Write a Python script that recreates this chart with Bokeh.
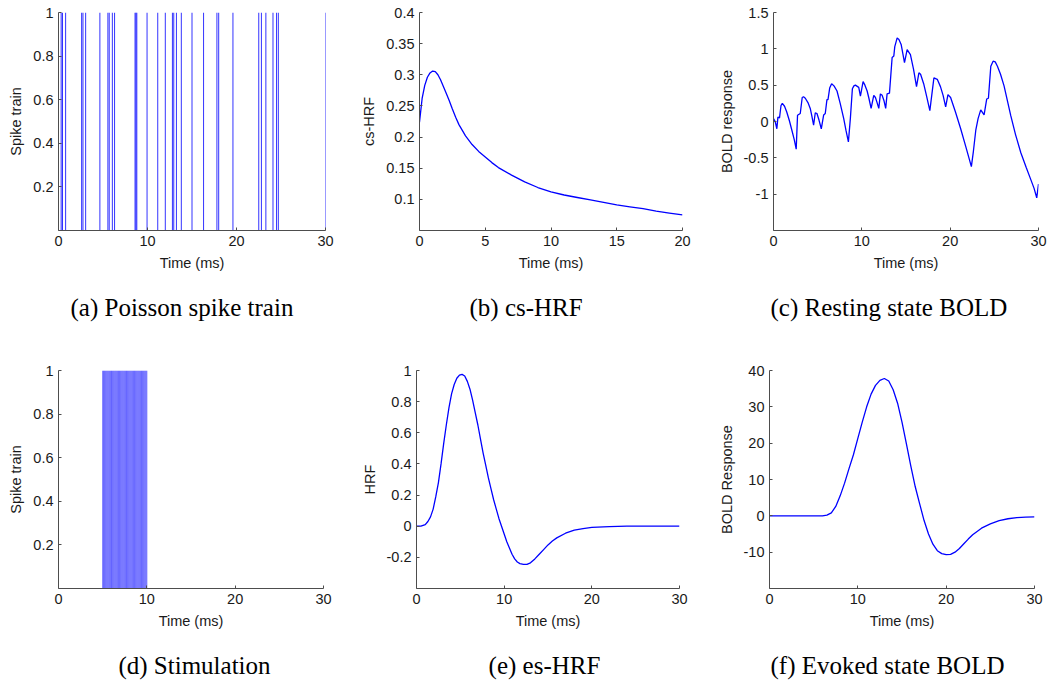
from bokeh.plotting import figure
from bokeh.layouts import column, row
from bokeh.models import Range1d, FixedTicker, CustomJSTickFormatter, Title, Label
from bokeh.embed import file_html
from bokeh.resources import INLINE

# ---------------- data ----------------
spike_times_a = [0.3, 0.45, 0.8, 2.6, 2.75, 3.05, 4.65, 5.55, 5.7, 6.05, 6.3,
                 8.6, 8.7, 8.8, 9.95, 11.15, 12.0, 12.8, 12.95, 13.25, 13.8,
                 15.0, 16.3, 17.8, 18.0, 19.6, 22.5, 22.8, 23.3, 24.1, 24.5,
                 24.7, 30.0]

cs_hrf_t = [0, 0.2, 0.4, 0.6, 0.8, 1.0, 1.2, 1.4, 1.6, 1.8, 2.0, 2.25, 2.5,
            2.75, 3.0, 3.5, 4.0, 4.5, 5.0, 5.5, 6, 7, 8, 9, 10, 11, 12, 13,
            14, 15, 16, 17, 18, 19, 20]
cs_hrf_v = [0.224, 0.262, 0.283, 0.296, 0.303, 0.306, 0.305, 0.300, 0.292,
            0.282, 0.272, 0.259, 0.245, 0.232, 0.220, 0.202, 0.188, 0.177,
            0.168, 0.159, 0.151, 0.139, 0.128, 0.119, 0.112, 0.107, 0.103,
            0.099, 0.095, 0.091, 0.088, 0.085, 0.081, 0.078, 0.075]

rest_t = [0, 0.19, 0.38, 0.5, 0.68, 0.85, 1.0, 1.25, 1.5, 1.8, 2.08, 2.35,
          2.57, 2.72, 3.03, 3.25, 3.4, 3.6, 3.9, 4.16, 4.35, 4.54, 4.73, 4.92,
          5.15, 5.41, 5.68, 5.86, 6.05, 6.17, 6.36, 6.58, 6.85, 7.19, 7.55,
          7.95, 8.2, 8.48, 8.7, 8.93, 9.1, 9.27, 9.65, 9.84, 10.14, 10.35,
          10.6, 10.8, 11.05, 11.35, 11.54, 11.7, 11.92, 12.1, 12.3, 12.5,
          12.7, 12.86, 13.13, 13.43, 13.62, 13.73, 14.0, 14.2, 14.45, 14.83,
          15.13, 15.5, 15.85, 16.19, 16.46, 16.65, 17.0, 17.35, 17.7, 18.16,
          18.54, 18.9, 19.2, 19.49, 19.75, 20.05, 20.6, 21.19, 21.8, 22.4,
          22.63, 22.9, 23.16, 23.46, 23.84, 24.14, 24.33, 24.6, 24.86, 25.1,
          25.35, 25.7, 26.1, 26.86, 27.4, 28.0, 28.6, 29.13, 29.5, 29.8, 30.0]
rest_v = [0.04, 0.0, -0.10, 0.06, 0.05, 0.22, 0.25, 0.21, 0.13, 0.01, -0.12,
          -0.25, -0.38, 0.085, 0.11, 0.33, 0.34, 0.32, 0.26, 0.18, 0.07,
          -0.05, 0.12, 0.11, 0.02, -0.10, 0.09, 0.11, 0.30, 0.30, 0.46, 0.52,
          0.49, 0.42, 0.25, 0.04, -0.12, -0.28, 0.04, 0.45, 0.49, 0.50, 0.47,
          0.35, 0.55, 0.50, 0.42, 0.32, 0.18, 0.36, 0.33, 0.27, 0.18, 0.38,
          0.36, 0.29, 0.18, 0.38, 0.39, 0.88, 0.90, 1.03, 1.15, 1.13, 1.06,
          0.81, 0.99, 0.92, 0.72, 0.48, 0.67, 0.65, 0.52, 0.34, 0.15, 0.60,
          0.58, 0.48, 0.36, 0.20, 0.37, 0.33, 0.13, -0.10, -0.36, -0.62,
          -0.41, -0.12, 0.04, 0.16, 0.09, 0.31, 0.32, 0.76, 0.83, 0.82, 0.76,
          0.65, 0.49, 0.08, -0.18, -0.43, -0.63, -0.80, -0.92, -1.05, -0.86]

stim_times = [5.0, 5.1, 5.2, 5.3, 5.4, 5.5, 5.6, 5.7, 5.8, 5.9, 6.0, 6.1, 6.2,
              6.3, 6.4, 6.5, 6.6, 6.7, 6.8, 6.9, 7.0, 7.1, 7.2, 7.3, 7.4, 7.5,
              7.6, 7.7, 7.8, 7.9, 8.0, 8.1, 8.2, 8.3, 8.4, 8.5, 8.6, 8.7, 8.8,
              8.9, 9.0, 9.1, 9.2, 9.3, 9.4, 9.5, 9.6, 9.7, 9.8, 9.9, 10.0]

es_hrf_t = [0, 0.5, 1.0, 1.3, 1.6, 1.9, 2.2, 2.5, 2.8, 3.1, 3.4, 3.7, 4.0,
            4.3, 4.6, 4.9, 5.2, 5.5, 5.8, 6.1, 6.4, 6.7, 7.0, 7.3, 7.6, 7.9,
            8.2, 8.5, 8.8, 9.1, 9.4, 9.7, 10.0, 10.3, 10.6, 10.9, 11.2, 11.5,
            11.8, 12.2, 12.6, 13.0, 13.5, 14.0, 14.5, 15.0, 15.5, 16.0, 17.0,
            18.0, 19.0, 20.0, 22.0, 24.0, 30.0]
es_hrf_v = [0.0, 0.0, 0.01, 0.03, 0.06, 0.11, 0.19, 0.28, 0.40, 0.53, 0.65,
            0.76, 0.85, 0.91, 0.95, 0.97, 0.975, 0.965, 0.93, 0.88, 0.81,
            0.73, 0.65, 0.56, 0.47, 0.39, 0.31, 0.24, 0.17, 0.11, 0.05, 0.0,
            -0.05, -0.10, -0.14, -0.18, -0.21, -0.23, -0.24, -0.245, -0.245,
            -0.235, -0.21, -0.18, -0.15, -0.12, -0.095, -0.075, -0.045,
            -0.025, -0.015, -0.008, -0.002, 0.0, 0.0]

evoked_t = [0, 6.0, 6.5, 7.0, 7.5, 8.0, 8.5, 9.0, 9.5, 10.0, 10.5, 11.0, 11.5,
            12.0, 12.5, 13.0, 13.5, 14.0, 14.5, 15.0, 15.5, 16.0, 16.5, 17.0,
            17.5, 18.0, 18.5, 19.0, 19.5, 20.0, 20.5, 21.0, 21.5, 22.0, 22.5,
            23.0, 24.0, 25.0, 26.0, 27.0, 28.0, 29.0, 30.0]
evoked_v = [0, 0, 0.2, 0.8, 2.6, 5.5, 9.0, 13.0, 16.8, 21.3, 25.8, 30.0, 33.5,
            35.9, 37.3, 37.8, 37.1, 34.7, 31.0, 25.8, 19.8, 13.7, 8.0, 3.3,
            -1.3, -5.0, -7.8, -9.6, -10.4, -10.7, -10.6, -10.0, -9.0, -7.7,
            -6.4, -5.2, -3.4, -2.2, -1.3, -0.8, -0.5, -0.35, -0.3]

ticks_x30 = [0, 10, 20, 30]
ticks_x20 = [0, 5, 10, 15, 20]
ticks_y_spike = [0.2, 0.4, 0.6, 0.8, 1]
ticks_y_cs = [0.1, 0.15, 0.2, 0.25, 0.3, 0.35, 0.4]
ticks_y_rest = [-1, -0.5, 0, 0.5, 1, 1.5]
ticks_y_es = [-0.2, 0, 0.2, 0.4, 0.6, 0.8, 1]
ticks_y_evoked = [-10, 0, 10, 20, 30, 40]

captions = ["(a) Poisson spike train", "(b) cs-HRF", "(c) Resting state BOLD",
            "(d) Stimulation", "(e) es-HRF", "(f) Evoked state BOLD"]

# ---------------- styling helpers ----------------
BLUE = "#0000ff"
AX = "#4d4d4d"
TXT = "#1a1a1a"
CAP_FONT = "Liberation Serif"
CAP_SIZE = "25px"
fmt_code = "return String(Math.round(tick*10000)/10000);"


def make_fig(W, H, L, R, T, B, xr, yr, xticks, yticks, ylabel, caption=None, cap_off=0):
    p = figure(width=W, height=H, x_range=Range1d(*xr), y_range=Range1d(*yr),
               output_backend="svg", toolbar_location=None,
               min_border_left=L, min_border_right=R, min_border_top=T,
               min_border_bottom=B)
    p.xgrid.visible = False
    p.ygrid.visible = False
    p.outline_line_color = None
    p.background_fill_color = "white"
    p.border_fill_color = "white"
    p.xaxis.ticker = FixedTicker(ticks=xticks)
    p.yaxis.ticker = FixedTicker(ticks=yticks)
    p.xaxis.axis_label = "Time (ms)"
    p.yaxis.axis_label = ylabel
    for ax in (p.xaxis[0], p.yaxis[0]):
        ax.formatter = CustomJSTickFormatter(code=fmt_code)
        ax.axis_line_color = AX
        ax.axis_line_width = 1
        ax.major_tick_line_color = AX
        ax.major_tick_in = 3
        ax.major_tick_out = 0
        ax.minor_tick_line_color = None
        ax.major_label_text_font = "Liberation Sans"
        ax.major_label_text_font_size = "14.5px"
        ax.major_label_text_color = TXT
        ax.major_label_standoff = 5
        ax.axis_label_text_font = "Liberation Sans"
        ax.axis_label_text_font_size = "14.5px"
        ax.axis_label_text_font_style = "normal"
        ax.axis_label_text_color = TXT
        ax.axis_label_standoff = 6
    if caption is not None:
        p.add_layout(Title(text=caption, align="left", offset=cap_off, standoff=36,
                           text_font=CAP_FONT, text_font_size=CAP_SIZE,
                           text_font_style="normal", text_color="black"), "below")
    return p


# ---------------- row 1 ----------------
pa = make_fig(345, 340, 58, 20, 9, 107, (0, 30), (0, 1), ticks_x30, ticks_y_spike,
              "Spike train", captions[0], 12)
pa.segment(x0=spike_times_a, y0=[0] * len(spike_times_a), x1=spike_times_a,
           y1=[1] * len(spike_times_a), line_color=BLUE, line_width=1, line_alpha=0.8)

pb = make_fig(355, 340, 74, 18, 11, 110, (0, 20), (0.05, 0.4), ticks_x20, ticks_y_cs,
              "cs-HRF", captions[1], 50)
pb.line(cs_hrf_t, cs_hrf_v, line_color=BLUE, line_width=1.3)

pc = make_fig(347, 340, 73, 9, 12, 107, (0, 30), (-1.5, 1.5), ticks_x30, ticks_y_rest,
              "BOLD response", captions[2], -3)
pc.line(rest_t, rest_v, line_color=BLUE, line_width=1.3)

# ---------------- row 2 ----------------
pd_ = make_fig(345, 310, 58, 22, 27, 61, (0, 30), (0, 1), ticks_x30, ticks_y_spike,
               "Spike train")
pd_.segment(x0=stim_times, y0=[0] * len(stim_times), x1=stim_times,
            y1=[1] * len(stim_times), line_color=BLUE, line_width=1, line_alpha=0.55)

pe = make_fig(355, 310, 71, 21, 28, 62, (0, 30), (-0.4, 1), ticks_x30, ticks_y_es,
              "HRF")
pe.line(es_hrf_t, es_hrf_v, line_color=BLUE, line_width=1.3)

pf = make_fig(347, 310, 69, 13, 30, 59, (0, 30), (-20, 40), ticks_x30, ticks_y_evoked,
              "BOLD Response")
pf.line(evoked_t, evoked_v, line_color=BLUE, line_width=1.3)

# ---------------- caption strip for row 2 ----------------
cap_x = [194, 544, 887]
pcap = figure(width=1047, height=33, x_range=Range1d(0, 1047), y_range=Range1d(0, 33),
              output_backend="svg", toolbar_location=None, min_border=0)
pcap.axis.visible = False
pcap.xgrid.visible = False
pcap.ygrid.visible = False
pcap.outline_line_color = None
for cx, txt in zip(cap_x, captions[3:]):
    pcap.add_layout(Label(x=cx, y=18, text=txt, text_align="center",
                          text_baseline="middle", text_font=CAP_FONT,
                          text_font_size=CAP_SIZE, text_color="black"))

layout = column(row(pa, pb, pc), row(pd_, pe, pf), pcap)
open("out.html", "w").write(file_html(layout, INLINE))
